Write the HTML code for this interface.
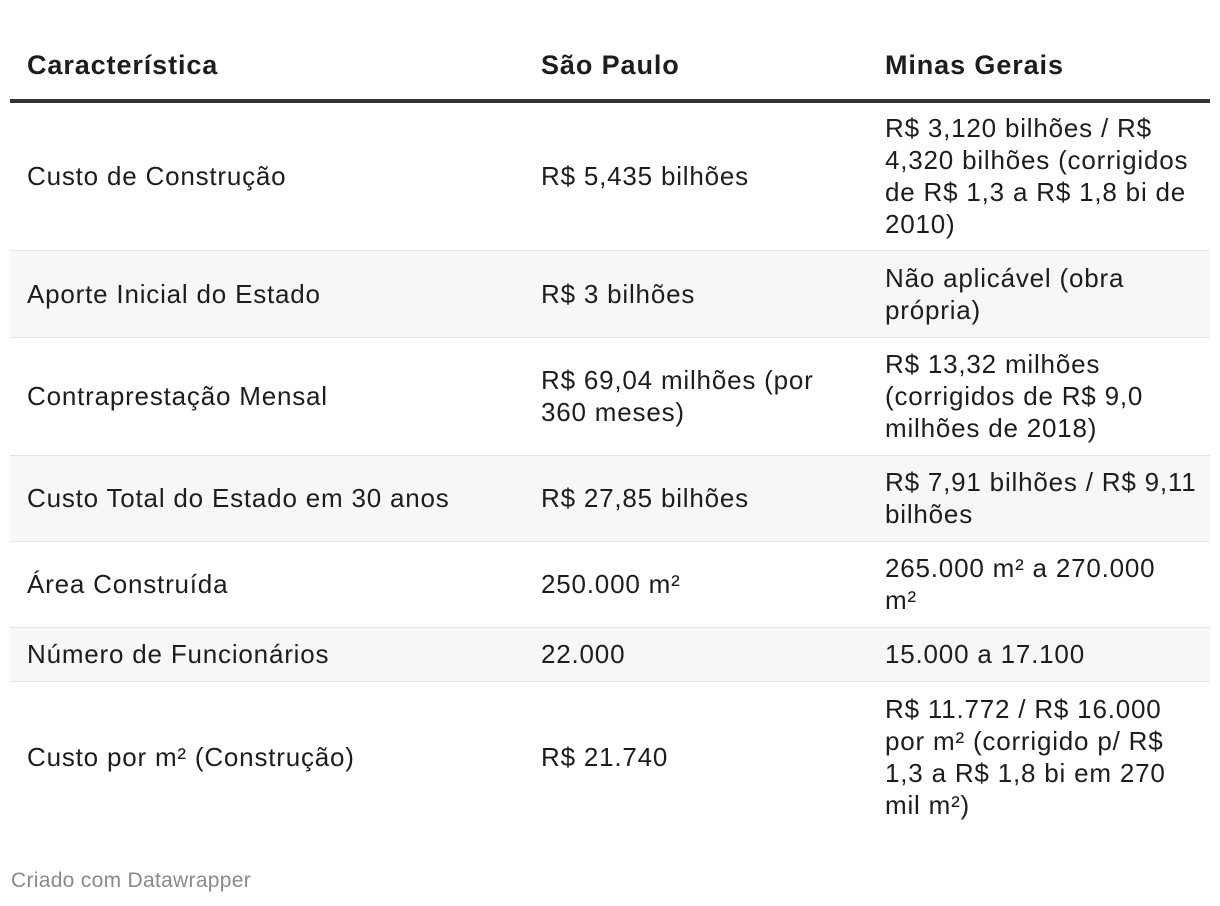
<!DOCTYPE html>
<html><head><meta charset="utf-8">
<style>
body{margin:0;background:#fff;width:1220px;height:906px;overflow:hidden;font-family:"Liberation Sans",Arial,sans-serif;color:#1d1d1d;}
table{position:absolute;left:10px;top:31px;width:1200px;border-collapse:collapse;table-layout:fixed}
th{font-weight:bold;font-size:27px;letter-spacing:0.9px;text-align:left;height:68px;padding:0 0 0 17px;border-bottom:4px solid #333;vertical-align:middle;white-space:nowrap}
td{font-size:26px;letter-spacing:0.8px;line-height:32px;padding:0 0 0 17px;vertical-align:middle;white-space:nowrap;border-bottom:1px solid #e4e4e4}
tr.g td{background:#f7f7f7}
#foot{position:absolute;left:11px;top:869px;font-size:21px;letter-spacing:0.3px;color:#8a8a8a}
</style></head><body>
<table>
<colgroup><col style="width:514px"><col style="width:344px"><col></colgroup>
<tr><th>Característica</th><th>São Paulo</th><th>Minas Gerais</th></tr>
<tr style="height:149px"><td>Custo de Construção</td><td>R$ 5,435 bilhões</td><td>R$ 3,120 bilhões / R$<br>4,320 bilhões (corrigidos<br>de R$ 1,3 a R$ 1,8 bi de<br>2010)</td></tr>
<tr class="g" style="height:87px"><td>Aporte Inicial do Estado</td><td>R$ 3 bilhões</td><td>Não aplicável (obra<br>própria)</td></tr>
<tr style="height:118px"><td>Contraprestação Mensal</td><td>R$ 69,04 milhões (por<br>360 meses)</td><td>R$ 13,32 milhões<br>(corrigidos de R$ 9,0<br>milhões de 2018)</td></tr>
<tr class="g" style="height:86px"><td>Custo Total do Estado em 30 anos</td><td>R$ 27,85 bilhões</td><td>R$ 7,91 bilhões / R$ 9,11<br>bilhões</td></tr>
<tr style="height:86px"><td>Área Construída</td><td>250.000 m²</td><td>265.000 m² a 270.000<br>m²</td></tr>
<tr class="g" style="height:54px"><td>Número de Funcionários</td><td>22.000</td><td>15.000 a 17.100</td></tr>
<tr style="height:151px"><td style="border-bottom:none">Custo por m² (Construção)</td><td style="border-bottom:none">R$ 21.740</td><td style="border-bottom:none">R$ 11.772 / R$ 16.000<br>por m² (corrigido p/ R$<br>1,3 a R$ 1,8 bi em 270<br>mil m²)</td></tr>
</table>
<div id="foot">Criado com Datawrapper</div>
</body></html>
